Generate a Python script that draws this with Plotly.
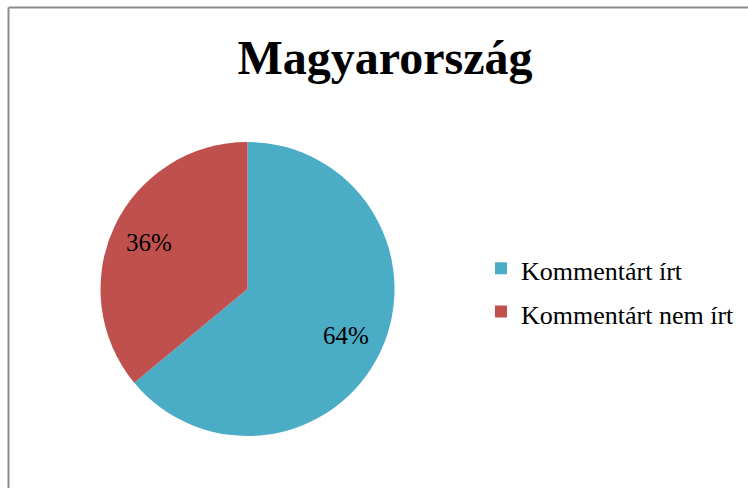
import math
import plotly.graph_objects as go

title_text = "Magyarország"
categories = ["Kommentárt írt", "Kommentárt nem írt"]
values = [64, 36]
colors = ["#4BACC6", "#C0504D"]

W, H = 748, 488
cx, cy, r = 247.5, 289.0, 147.0
label_radius = 0.74

fig = go.Figure(go.Pie(
    labels=categories,
    values=values,
    sort=False,
    direction="clockwise",
    rotation=0,
    marker=dict(colors=colors, line=dict(width=0)),
    textinfo="none",
    domain=dict(x=[(cx - r) / W, (cx + r) / W], y=[(H - cy - r) / H, (H - cy + r) / H]),
    hoverinfo="label+percent",
))

# percent labels placed along each slice's bisector (computed from the values)
total = sum(values)
annotations = []
cum = 0.0
for v in values:
    mid = (cum + v / 2) / total
    cum += v
    th = 2 * math.pi * mid
    px = cx + label_radius * r * math.sin(th)
    py = cy - label_radius * r * math.cos(th)
    annotations.append(dict(
        x=px / W, y=1 - py / H, xref="paper", yref="paper",
        text=f"{round(100 * v / total)}%", showarrow=False,
        xanchor="center", yanchor="middle",
        font=dict(family="Liberation Serif", size=25, color="black"),
    ))

fig.update_layout(
    width=W, height=H,
    margin=dict(l=0, r=0, t=0, b=0),
    paper_bgcolor="white",
    title=dict(text="<b>" + title_text + "</b>", x=385 / W, xanchor="center",
               y=1 - 57 / H, yanchor="middle",
               font=dict(family="Liberation Serif", size=48, color="black")),
    legend=dict(x=481 / W, xanchor="left", y=1 - 290 / H, yanchor="middle",
                font=dict(family="Liberation Serif", size=31, color="black"),
                bgcolor="rgba(0,0,0,0)"),
    showlegend=True,
    annotations=annotations,
    shapes=[
        dict(type="line", xref="paper", yref="paper", x0=8.5 / W, x1=1, y0=1 - 7.5 / H, y1=1 - 7.5 / H,
             line=dict(color="#8c8c8c", width=2)),
        dict(type="line", xref="paper", yref="paper", x0=8.5 / W, x1=8.5 / W, y0=0, y1=1 - 7.5 / H,
             line=dict(color="#8c8c8c", width=2)),
    ],
)

# legend labels rendered at 26px while the larger legend font gives the wider row spacing
fig.for_each_trace(lambda t: t.update(
    labels=[f'<span style="font-size:26px">{c}</span>' for c in categories]))

fig.write_html("out.html", config={"displayModeBar": False},
               post_script="document.body.style.margin='0';")
